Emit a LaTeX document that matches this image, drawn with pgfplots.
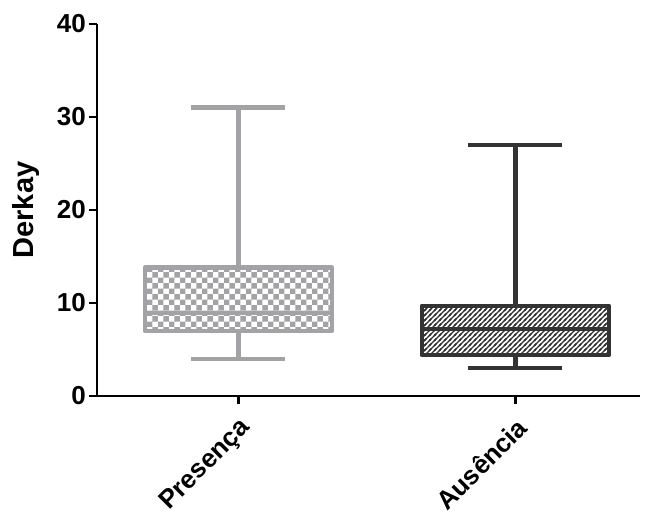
\documentclass[border=0pt]{standalone}
\usepackage{fontspec}
\setmainfont{Liberation Sans}
\usepackage{pgfplots}
\pgfplotsset{compat=1.18}
\usepgfplotslibrary{statistics}
\usetikzlibrary{patterns}
\definecolor{cA}{RGB}{163,163,165}
\definecolor{cB}{RGB}{51,51,51}
\pgfdeclarepatternformonly{mydiag}{\pgfqpoint{-1pt}{-1pt}}{\pgfqpoint{6pt}{6pt}}{\pgfqpoint{5pt}{5pt}}{%
 \pgfsetlinewidth{1.4pt}%
 \pgfpathmoveto{\pgfqpoint{-1pt}{-1pt}}\pgfpathlineto{\pgfqpoint{6pt}{6pt}}%
 \pgfpathmoveto{\pgfqpoint{-1pt}{4pt}}\pgfpathlineto{\pgfqpoint{1pt}{6pt}}%
 \pgfpathmoveto{\pgfqpoint{4pt}{-1pt}}\pgfpathlineto{\pgfqpoint{6pt}{1pt}}%
 \pgfusepath{stroke}}
\begin{document}
\begin{tikzpicture}
\begin{axis}[
 width=543pt, height=372pt, scale only axis,
 xmin=0.49, xmax=2.45, ymin=0, ymax=40,
 axis x line*=bottom, axis y line*=left,
 axis line style={line width=2.5pt,-},
 ytick={0,10,20,30,40},
 xtick={1,2}, xticklabels={Presença, Ausência},
 tick style={line width=2.5pt, black},
 tick align=outside, major tick length=8pt,
 x tick label style={rotate=45, anchor=north east, font=\bfseries\fontsize{26}{30}\selectfont, inner sep=2pt},
 xticklabel shift=9pt,
 y tick label style={font=\bfseries\fontsize{26}{30}\selectfont, inner sep=3pt},
 /pgf/number format/assume math mode=true,
 ylabel={Derkay},
 ylabel style={font=\bfseries\fontsize{29}{32}\selectfont, at={([xshift=-71pt]axis description cs:0,0.5)}, anchor=center},
 clip=false,
 boxplot/draw direction=y,
]
\addplot[cA, line width=4.5pt, line join=round,
  boxplot prepared={lower whisker=4, lower quartile=7, median=8.9, upper quartile=13.8, upper whisker=31, draw position=1, box extend=0.675, whisker extend=0.34,
  every box/.style={pattern=checkerboard, pattern color=cA}}]
  coordinates {};
\addplot[cB, line width=4.5pt, line join=round,
  boxplot prepared={lower whisker=3, lower quartile=4.4, median=7.2, upper quartile=9.7, upper whisker=27, draw position=2, box extend=0.675, whisker extend=0.34,
  every box/.style={pattern=mydiag, pattern color=cB}}]
  coordinates {};
\end{axis}
\path (current axis.south west) ++(-97pt,-124pt) (current axis.north east) ++(5pt,24pt);
\end{tikzpicture}
\end{document}
